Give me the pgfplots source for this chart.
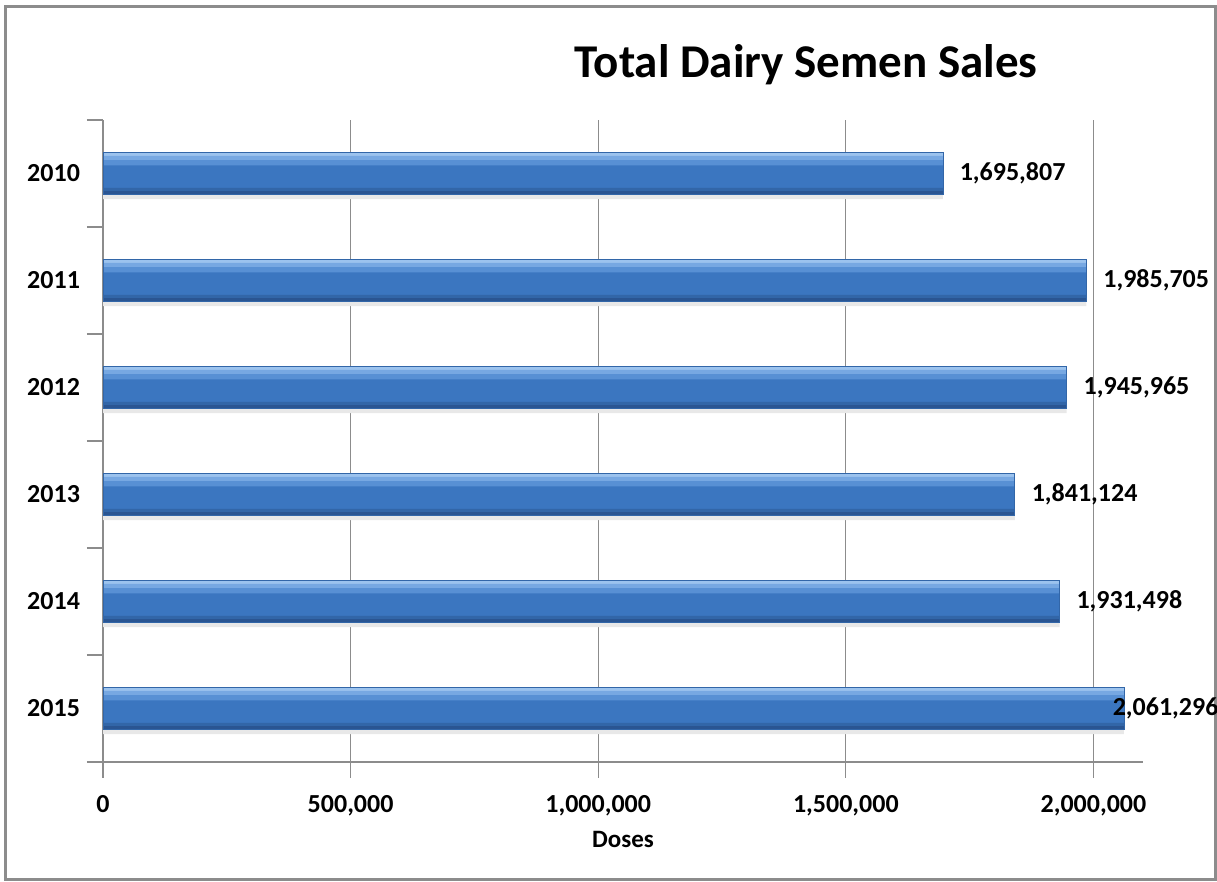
\documentclass[border=0pt]{standalone}
\usepackage{pgfplots}
\pgfplotsset{compat=1.18}
\usepackage{fontspec}
\setmainfont{Carlito}
\definecolor{gridgray}{HTML}{8C8C8C}
\definecolor{barmid}{HTML}{3B76C0}
\definecolor{barhiA}{HTML}{9CC3EE}
\definecolor{barhiB}{HTML}{77A8E2}
\definecolor{barhiC}{HTML}{5890D4}
\definecolor{barbotA}{HTML}{2A5592}
\definecolor{barbotB}{HTML}{3266A8}
\pgfplotstableread{
y v sh
0 1695807 5
1 1985705 5
2 1945965 5
3 1841124 5
4 1931498 5
5 2061296 -9
}\sales
\begin{document}
\begin{tikzpicture}
\path[use as bounding box] (0,0) rectangle (608.5pt,441pt);
\draw[gridgray, line width=1.5pt] (2.5pt,1pt) rectangle (607.5pt,437.5pt);
\node[font=\bfseries\fontsize{23.5}{26}\selectfont] at (403pt,408.5pt) {Total Dairy Semen Sales};
\begin{axis}[
  at={(51.5pt,60pt)}, anchor=south west,
  scale only axis, width=520pt, height=321pt,
  xmin=0, xmax=2100000,
  ymin=-0.5, ymax=5.5,
  y dir=reverse,
  axis lines=left,
  axis line style={gridgray, line width=0.6pt, -},
  xtick={0,500000,1000000,1500000,2000000},
  scaled x ticks=false,
  xticklabel style={yshift=-5pt, /pgf/number format/fixed, /pgf/number format/1000 sep={,}},
  xmajorgrids, grid style={gridgray, line width=0.5pt},
  ytick={0,1,2,3,4,5},
  yticklabels={2010,2011,2012,2013,2014,2015},
  major y tick style={draw=none},
  minor ytick={-0.5,0.5,1.5,2.5,3.5,4.5,5.5},
  minor y tick style={gridgray, line width=0.6pt},
  minor tick length=8pt,
  major tick length=8pt,
  x tick style={gridgray, line width=0.6pt},
  tick align=outside,
  tick pos=left,
  /pgf/number format/assume math mode=true,
  ticklabel style={font=\bfseries\fontsize{13}{15}\selectfont, text=black},
  yticklabel style={xshift=0pt},
  xlabel={Doses},
  xlabel style={font=\bfseries\fontsize{12.5}{14}\selectfont, yshift=-1pt},
  clip=false,
]
% soft shadow
\addplot[xbar, bar width=0.05, bar shift=0.215, draw=none, fill=black!9] table[x=v, y=y] {\sales};
% main bar
\addplot[xbar, bar width=0.39, bar shift=0, draw=none, fill=barmid] table[x=v, y=y] {\sales};
% highlights (top)
\addplot[xbar, bar width=0.03, bar shift=-0.18, draw=none, fill=barhiA] table[x=v, y=y] {\sales};
\addplot[xbar, bar width=0.04, bar shift=-0.145, draw=none, fill=barhiB] table[x=v, y=y] {\sales};
\addplot[xbar, bar width=0.05, bar shift=-0.10, draw=none, fill=barhiC] table[x=v, y=y] {\sales};
% dark bottom bands
\addplot[xbar, bar width=0.03, bar shift=0.15, draw=none, fill=barbotB] table[x=v, y=y] {\sales};
\addplot[xbar, bar width=0.03, bar shift=0.18, draw=none, fill=barbotA] table[x=v, y=y] {\sales};
% outline and labels
\addplot[xbar, bar width=0.39, bar shift=0, draw=barbotB, line width=0.3pt, fill=none,
  visualization depends on={\thisrow{sh} \as \myshift},
  nodes near coords,
  nodes near coords style={anchor=west, xshift=\myshift pt, text=black,
    font=\bfseries\fontsize{13}{15}\selectfont,
    /pgf/number format/fixed, /pgf/number format/1000 sep={,}, /pgf/number format/assume math mode=true},
] table[x=v, y=y] {\sales};
\end{axis}
\end{tikzpicture}
\end{document}
